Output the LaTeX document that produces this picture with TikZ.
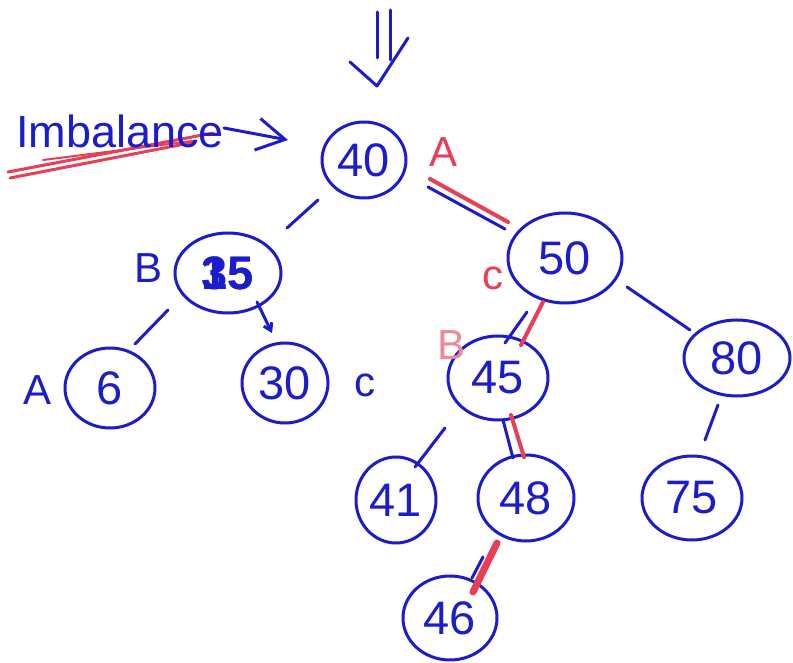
\documentclass[tikz,border=0pt]{standalone}
\usepackage{fontspec}
\setmainfont{Liberation Sans}
\usetikzlibrary{shapes.geometric,arrows.meta}
\definecolor{ink}{RGB}{28,28,205}
\definecolor{hilite}{RGB}{232,62,88}
\definecolor{hilitepale}{RGB}{240,135,155}
\tikzset{
  vertex/.style={ellipse, draw=ink, line width=3pt, text=ink, inner sep=0pt,
                 font=\fontsize{47}{50}\selectfont},
  tag/.style={text=ink, inner sep=0pt, font=\fontsize{42}{46}\selectfont},
  redtag/.style={tag, text=hilite},
  link/.style={draw=ink, line width=3pt, line cap=round, line join=round},
  redlink/.style={draw=hilite, line width=4pt, line cap=round},
}
\begin{document}
\begin{tikzpicture}[x=1pt,y=-1pt]
\fill[white] (0,0) rectangle (793,663);
\useasboundingbox (0,0) rectangle (793,663);

% tree nodes
\node[vertex, minimum width=84pt,  minimum height=76pt] (n40) at (364,160) {40};
\node[vertex, minimum width=106pt, minimum height=80pt] (n15) at (228,273) {\rlap{\textbf{35}}\textbf{15}};
\node[vertex, minimum width=114pt, minimum height=90pt] (n50) at (565,258) {50};
\node[vertex, minimum width=90pt,  minimum height=80pt] (n6)  at (110,388) {6};
\node[vertex, minimum width=86pt,  minimum height=80pt] (n30) at (285,383) {30};
\node[vertex, minimum width=100pt, minimum height=84pt] (n45) at (498,378) {45};
\node[vertex, minimum width=106pt, minimum height=76pt] (n80) at (737,358) {80};
\node[vertex, minimum width=80pt,  minimum height=86pt] (n41) at (396,500) {41};
\node[vertex, minimum width=96pt,  minimum height=86pt] (n48) at (526,498) {48};
\node[vertex, minimum width=100pt, minimum height=84pt] (n75) at (692,498) {75};
\node[vertex, minimum width=94pt,  minimum height=84pt] (n46) at (450,618) {46};

% balance labels
\node[tag] (lb1) at (149,268) {B};
\node[tag] (la1) at (38,390) {A};
\node[tag] (lc1) at (365,385) {c};
\node[redtag] (la2) at (444,152) {A};
\node[redtag] (lc2) at (493,278) {c};
\node[tag, text=hilitepale] (lb2) at (452,345) {B};

% edges
\draw[link] ([shift={(-46,40)}]n40.center) -- ([shift={(59,-45)}]n15.center);
\draw[redlink] ([shift={(66,19)}]n40.center) -- ([shift={(-57,-36)}]n50.center);
\draw[link] ([shift={(64,27)}]n40.center) -- ([shift={(-60,-29)}]n50.center);
\draw[link] ([shift={(-60,37)}]n15.center) -- ([shift={(25,-44)}]n6.center);
\draw[link, -{Straight Barb[length=7pt,width=9pt]}] ([shift={(29,29)}]n15.center) -- ([shift={(-13,-50)}]n30.center);
\draw[redlink] ([shift={(-22,44)}]n50.center) -- ([shift={(23,-33)}]n45.center);
\draw[link] ([shift={(-38,54)}]n50.center) -- ([shift={(7,-35)}]n45.center);
\draw[link] ([shift={(62,29)}]n50.center) -- ([shift={(-47,-28)}]n80.center);
\draw[link] ([shift={(-53,50)}]n45.center) -- ([shift={(19,-33)}]n41.center);
\draw[redlink] ([shift={(13,37)}]n45.center) -- ([shift={(-2,-41)}]n48.center);
\draw[link] ([shift={(5,42)}]n45.center) -- ([shift={(-13,-40)}]n48.center);
\draw[link] ([shift={(-19,47)}]n80.center) -- ([shift={(13,-58)}]n75.center);
\draw[redlink, line width=7pt] ([shift={(-29,45)}]n48.center) -- ([shift={(23,-26)}]n46.center);
\draw[link] ([shift={(-43,59)}]n48.center) -- ([shift={(22,-40)}]n46.center);

% "Imbalance" note with its red underline and pointer
\draw[redlink, line width=3pt] (8,172) -- (213,133);
\draw[redlink, line width=3pt] (10,178) -- (195,142);
\draw[redlink, line width=2pt] (43,160) -- (193,141);
\node[tag, anchor=base west, font=\fontsize{45}{48}\selectfont] (imb) at (16,148) {Imbalance};
\draw[link, -{Straight Barb[length=28pt,width=32pt]}] (imb.base east) ++(0,-20) -- ([shift={(-76,-20)}]n40.center);

% double down arrow above the root
\draw[link] (377,12) -- (377,58);
\draw[link] (390,10) -- (390,60);
\draw[link] (350,62) -- (377,86) -- (408,38);
\end{tikzpicture}
\end{document}
